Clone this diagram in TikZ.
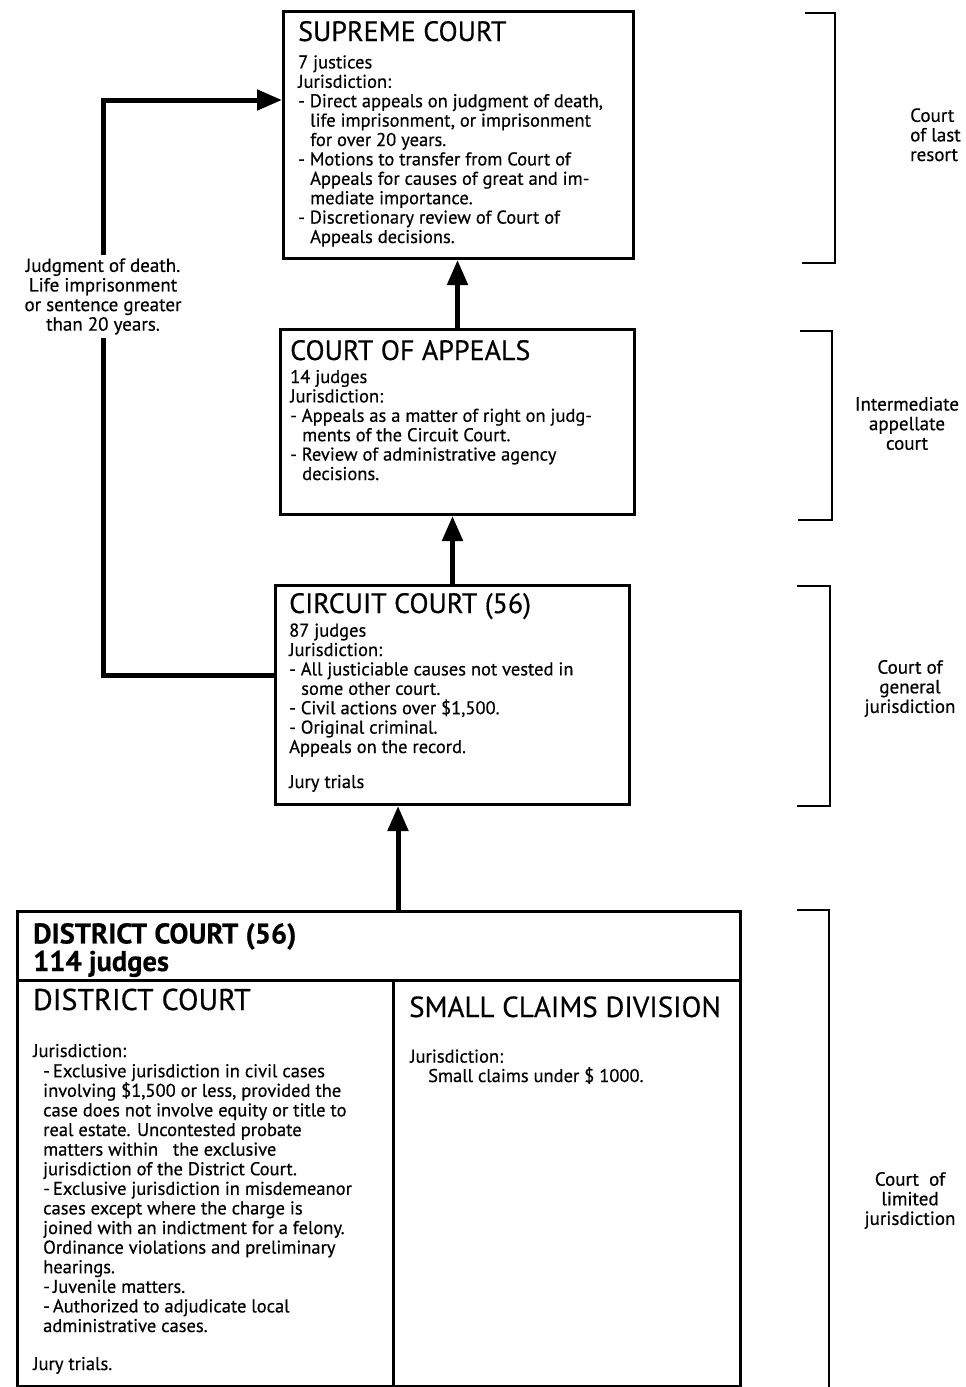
\documentclass[tikz,border=0pt]{standalone}
\usepackage{fontspec}
\setmainfont{PT Sans}[FakeBold=0.5]
\usetikzlibrary{arrows.meta}
\newcommand\myind{\hspace*{12pt}}
\begin{document}
\begin{tikzpicture}[x=1pt,y=-1pt,
 box/.style={draw, line width=3pt, inner sep=0pt, anchor=north west},
 conn/.style={line width=5pt, -{Triangle[length=25pt,width=20pt]}},
 thk/.style={line width=5pt},
 txt/.style={anchor=base west, inner sep=0pt, align=left, font=\fontsize{18.5}{19.4}\selectfont},
 ttl/.style={anchor=base west, inner sep=0pt, font=\fontsize{28}{25}\selectfont},
 brk/.style={line width=2pt},
 side/.style={align=center, inner sep=3pt, font=\fontsize{19}{19.6}\selectfont}]
\useasboundingbox (0,0) rectangle (966,1387);
% boxes
\node[box, minimum width=350pt, minimum height=247pt] (sc) at (282,10) {};
\node[box, minimum width=354pt, minimum height=185pt] (coa) at (279,328) {};
\node[box, minimum width=354pt, minimum height=219pt] (cc) at (274,584) {};
\node[box, minimum width=723pt, minimum height=475pt] (dc) at (16,910) {};
\coordinate (hd) at (16,980);
\coordinate (vd) at (393,980);
\draw[line width=3pt] (dc.west |- hd) -- (dc.east |- hd);
\draw[line width=3pt] (vd) -- (vd |- dc.south);
% supreme
\node[ttl] (sct) at (298,41) {SUPREME COURT};
\node[txt] (scb) at (298,243) {7 justices\\Jurisdiction:\\- Direct appeals on judgment of death,\\\myind life imprisonment, or imprisonment\\\myind for over 20 years.\\- Motions to transfer from Court of\\\myind Appeals for causes of great and im-\\\myind mediate importance.\\- Discretionary review of Court of\\\myind Appeals decisions.};
% court of appeals
\node[ttl] (coat) at (290,360) {COURT OF APPEALS};
\node[txt] (coab) at (290,480) {14 judges\\Jurisdiction:\\- Appeals as a matter of right on judg-\\\myind ments of the Circuit Court.\\- Review of administrative agency\\\myind decisions.};
% circuit
\node[ttl] (cct) at (289,613) {CIRCUIT COURT (56)};
\node[txt] (ccb) at (289,753) {87 judges\\Jurisdiction:\\- All justiciable causes not vested in\\\myind some other court.\\- Civil actions over \$1,500.\\- Original criminal.\\Appeals on the record.};
\node[txt] (ccj) at (289,788) {Jury trials};
% district
\node[ttl, font=\bfseries\fontsize{28.5}{25}\selectfont, align=left] (dct) at (33,971) {DISTRICT COURT (56)\\114 judges};
\node[ttl, font=\fontsize{30}{25}\selectfont] (dcs) at (33,1010) {DISTRICT COURT};
\node[ttl, font=\fontsize{29}{25}\selectfont] (scd) at (409,1017) {SMALL CLAIMS DIVISION};
\node[txt] (dcj) at (33,1057) {Jurisdiction:};
\node[txt, font=\fontsize{18.5}{19.6}\selectfont] (dcb) at (43,1332) {-\,Exclusive jurisdiction in civil cases\\involving \$1,500 or less, provided the\\case does not involve equity or title to\\real estate. Uncontested probate\\matters within\ \ \ the exclusive\\jurisdiction of the District Court.\\-\,Exclusive jurisdiction in misdemeanor\\cases except where the charge is\\joined with an indictment for a felony.\\Ordinance violations and preliminary\\hearings.\\-\,Juvenile matters.\\-\,Authorized to adjudicate local\\administrative cases.};
\node[txt] (dcjt) at (33,1370) {Jury trials.};
\node[txt] (scj) at (410,1082) {Jurisdiction:\\\hspace*{18pt}Small claims under \$ 1000.};
% connectors
\draw[conn] (coa.north) -- (coa.north |- sc.south);
\draw[conn] (cc.north) -- (cc.north |- coa.south);
\coordinate (ax) at (398,850);
\draw[conn] (ax |- dc.north) -- (ax |- cc.south);
\node[side] (jl) at (103,296.5) {Judgment of death.\\Life imprisonment\\or sentence greater\\than 20 years.};
\coordinate (lp) at (103,675);
\coordinate (tp) at (103,100);
\draw[thk] (cc.west |- lp) -- (lp) -- (jl.south);
\draw[conn] (jl.north) -- (tp) -- (sc.west |- tp);
% brackets
\draw[brk] (805,13) -- (835,13) -- (835,263) -- (802,263);
\draw[brk] (800,331) -- (832,331) -- (832,520) -- (798,520);
\draw[brk] (797,586) -- (830,586) -- (830,806) -- (797,806);
\draw[brk] (797,910) -- (829,910) -- (829,1387);
% side labels
\node[txt, font=\fontsize{19}{19.6}\selectfont] (l1) at (910,161) {Court\\of last\\resort};
\node[side] (l2) at (907,423.5) {Intermediate\\appellate\\court};
\node[side] (l3) at (910,688.5) {Court of\\general\\jurisdiction};
\node[side] (l4) at (910,1200.5) {Court\ \ of\\limited\\jurisdiction};
\end{tikzpicture}
\end{document}
